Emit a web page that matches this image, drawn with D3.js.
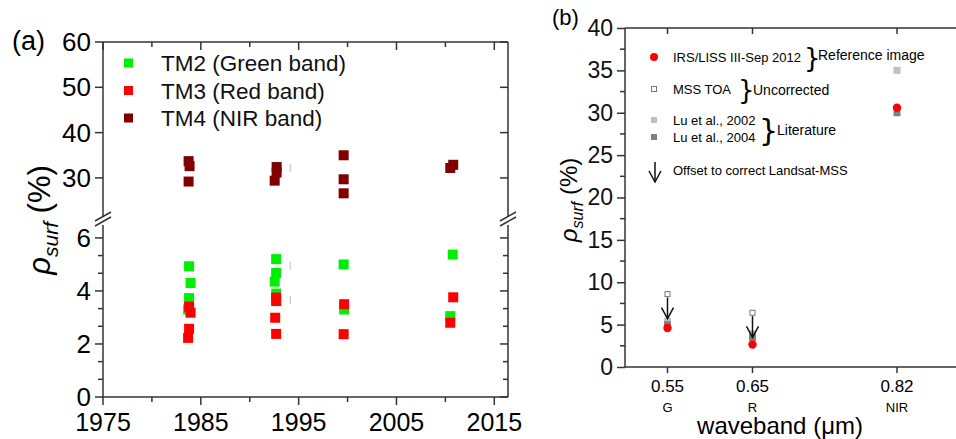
<!DOCTYPE html>
<html>
<head>
<meta charset="utf-8">
<script src="https://cdn.jsdelivr.net/npm/d3@7"></script>
<style>
  body { margin: 0; background: #fff; }
  svg { display: block; font-family: "Liberation Sans", Arial, sans-serif; }
</style>
</head>
<body>
<div id="plot"></div>
<script>
// ---- panel (a) data: [year, reflectance %]
var tm2 = [[1983.8, 4.93], [1983.95, 4.3], [1983.8, 3.73], [1983.7, 3.3],
  [1992.7, 5.2], [1992.7, 4.68], [1992.55, 4.35], [1992.7, 3.9],
  [1999.6, 5.0], [1999.65, 3.3],
  [2010.75, 5.37], [2010.5, 3.05]];
var tm3 = [[1983.8, 3.41], [1983.95, 3.18], [1983.8, 2.57], [1983.7, 2.23],
  [1992.7, 3.75], [1992.7, 3.62], [1992.6, 2.99], [1992.7, 2.38],
  [1999.65, 3.5], [1999.6, 2.37],
  [2010.8, 3.76], [2010.5, 2.8]];
var tm4 = [[1983.75, 33.7], [1983.85, 32.6], [1983.75, 29.2],
  [1992.75, 32.4], [1992.75, 31.2], [1992.55, 29.4],
  [1999.6, 35.0], [1999.6, 29.7], [1999.6, 26.6],
  [2010.5, 32.2], [2010.8, 32.9]];
var faint = [[1994.15, 32.2], [1994.15, 4.95], [1994.15, 3.66]];
var xTicksA = [1975, 1985, 1995, 2005, 2015];
var yTicksUp = [30, 40, 50, 60];
var yTicksLo = [0, 2, 4, 6];
var legendA = ["TM2 (Green band)", "TM3 (Red band)", "TM4 (NIR band)"];
var colorsA = ["#00ee00", "#ff0000", "#800000"];

// ---- panel (b) data
var bands = [0.55, 0.65, 0.82];
var bandNames = ["G", "R", "NIR"];
var liss = [4.6, 2.65, 30.6];
var mssToa = [8.6, 6.4, null];
var lu2002 = [5.4, 3.9, 35.0];
var lu2004 = [5.0, 3.5, 30.0];
var arrowTop = [8.2, 6.0];
var arrowEnd = [5.7, 3.5];
var yTicksB = [0, 5, 10, 15, 20, 25, 30, 35, 40];

var FONT = "'Liberation Sans', Arial, sans-serif";
var svg = d3.select("#plot").append("svg").attr("width", 956).attr("height", 439)
  .attr("font-family", FONT);
var axCol = "#333";

// ================= panel (a) =================
var xA = d3.scaleLinear().domain([1975, 2016.4]).range([103, 508]);
var yUp = d3.scaleLinear().domain([21, 60]).range([218.7, 42]);
var yLo = d3.scaleLinear().domain([0, 6.6]).range([397, 222]);
function yA(v) { return v > 15 ? yUp(v) : yLo(v); }

var ga = svg.append("g");
// frame lines
ga.append("line").attr("x1", 103).attr("x2", 508).attr("y1", 42).attr("y2", 42);
ga.append("line").attr("x1", 103).attr("x2", 508).attr("y1", 397).attr("y2", 397);
[103, 508].forEach(function(x) {
  ga.append("line").attr("x1", x).attr("x2", x).attr("y1", 42).attr("y2", 218);
  ga.append("line").attr("x1", x).attr("x2", x).attr("y1", 224).attr("y2", 397);
});
ga.selectAll("line").attr("stroke", axCol).attr("stroke-width", 1.5);

// x ticks (outward bottom, inward top)
var xAll = d3.range(1975, 2016, 5);
xAll.forEach(function(t) {
  var big = t % 10 === 5;
  var len = big ? 8 : 5;
  ga.append("line").attr("x1", xA(t)).attr("x2", xA(t)).attr("y1", 397).attr("y2", 397 + len)
    .attr("stroke", axCol).attr("stroke-width", 1.5);
  ga.append("line").attr("x1", xA(t)).attr("x2", xA(t)).attr("y1", 42).attr("y2", 42 + len)
    .attr("stroke", axCol).attr("stroke-width", 1.5);
});
ga.selectAll(".xl").data(xTicksA).enter().append("text")
  .attr("x", function(d) { return xA(d); }).attr("y", 431)
  .attr("text-anchor", "middle").attr("font-size", 25).text(function(d) { return d; });

// y ticks
function yTick(y, len) {
  ga.append("line").attr("x1", 103 - len).attr("x2", 103).attr("y1", y).attr("y2", y)
    .attr("stroke", axCol).attr("stroke-width", 1.5);
  ga.append("line").attr("x1", 508 - len).attr("x2", 508).attr("y1", y).attr("y2", y)
    .attr("stroke", axCol).attr("stroke-width", 1.5);
}
yTicksUp.forEach(function(t) { yTick(yUp(t), 8); });
yTicksLo.forEach(function(t) { yTick(yLo(t), 8); });
d3.range(0, 6, 2).forEach(function(t) {
  yTick(yLo(t + 2 / 3), 5);
  yTick(yLo(t + 4 / 3), 5);
});
ga.selectAll(".yu").data(yTicksUp.concat(yTicksLo)).enter().append("text")
  .attr("x", 91).attr("y", function(d) { return yA(d) + 9; })
  .attr("text-anchor", "end").attr("font-size", 26).text(function(d) { return d; });

// axis break marks
[103, 508].forEach(function(x) {
  ga.append("rect").attr("x", x - 6).attr("y", 217).attr("width", 12).attr("height", 8).attr("fill", "#fff");
  [0, 5].forEach(function(o) {
    ga.append("line").attr("x1", x - 8).attr("y1", 223 + o - 2).attr("x2", x + 8).attr("y2", 214 + o - 2)
      .attr("stroke", axCol).attr("stroke-width", 1.5);
  });
});

// faint marks
ga.selectAll(".faint").data(faint).enter().append("line")
  .attr("x1", function(d) { return xA(d[0]); }).attr("x2", function(d) { return xA(d[0]); })
  .attr("y1", function(d) { return yA(d[1]) - 4; }).attr("y2", function(d) { return yA(d[1]) + 4; })
  .attr("stroke", "#cfcfcf").attr("stroke-width", 1.5);

// squares
[tm2, tm4, tm3].forEach(function(series) {
  var c = series === tm2 ? colorsA[0] : series === tm3 ? colorsA[1] : colorsA[2];
  ga.append("g").selectAll("rect").data(series).enter().append("rect")
    .attr("x", function(d) { return xA(d[0]) - 5; })
    .attr("y", function(d) { return yA(d[1]) - 5; })
    .attr("width", 10).attr("height", 10).attr("fill", c);
});

// legend (a)
legendA.forEach(function(l, i) {
  var y = 63 + i * 27.5;
  ga.append("rect").attr("x", 124).attr("y", y - 4.5).attr("width", 9).attr("height", 9).attr("fill", colorsA[i]);
  ga.append("text").attr("x", 161).attr("y", y + 8).attr("font-size", 22.5).attr("fill", "#111").text(l);
});

ga.append("text").attr("x", 12).attr("y", 50).attr("font-size", 27).text("(a)");

// y label (a)
var la = ga.append("text").attr("transform", "translate(50,220)rotate(-90)")
  .attr("text-anchor", "middle").attr("font-size", 31);
la.append("tspan").attr("font-style", "italic").text("\u03C1");
la.append("tspan").attr("font-style", "italic").attr("font-size", 21).attr("dy", 8).text("surf");
la.append("tspan").attr("dy", -8).text(" (%)");

// ================= panel (b) =================
var xB = d3.scaleLinear().domain([0.5, 0.9]).range([625, 965]);
var yB = d3.scaleLinear().domain([0, 40]).range([367, 28]);
var gb = svg.append("g");

gb.append("line").attr("x1", 625).attr("x2", 965).attr("y1", 28).attr("y2", 28);
gb.append("line").attr("x1", 625).attr("x2", 965).attr("y1", 367).attr("y2", 367);
gb.append("line").attr("x1", 625).attr("x2", 625).attr("y1", 28).attr("y2", 367);
gb.selectAll("line").attr("stroke", axCol).attr("stroke-width", 1.5);

var yAxisB = d3.axisLeft(yB).tickValues(yTicksB).tickSize(8).tickPadding(4);
var ybg = gb.append("g").attr("transform", "translate(625,0)").call(yAxisB);
ybg.select(".domain").remove();
ybg.selectAll("line").attr("stroke", axCol).attr("stroke-width", 1.5);
ybg.selectAll("text").attr("font-size", 23).attr("font-family", FONT).attr("fill", "#111");
d3.range(2.5, 40, 5).forEach(function(t) {
  gb.append("line").attr("x1", 620).attr("x2", 625).attr("y1", yB(t)).attr("y2", yB(t))
    .attr("stroke", axCol).attr("stroke-width", 1.5);
});

bands.forEach(function(b, i) {
  gb.append("line").attr("x1", xB(b)).attr("x2", xB(b)).attr("y1", 367).attr("y2", 373)
    .attr("stroke", axCol).attr("stroke-width", 1.5);
  gb.append("line").attr("x1", xB(b)).attr("x2", xB(b)).attr("y1", 28).attr("y2", 34)
    .attr("stroke", axCol).attr("stroke-width", 1.5);
  gb.append("text").attr("x", xB(b)).attr("y", 392).attr("text-anchor", "middle")
    .attr("font-size", 17).text(b.toFixed(2));
  gb.append("text").attr("x", xB(b)).attr("y", 412).attr("text-anchor", "middle")
    .attr("font-size", 13).text(bandNames[i]);
});
gb.append("text").attr("x", 780).attr("y", 434).attr("text-anchor", "middle").attr("font-size", 24)
  .text("waveband (\u03BCm)");

gb.append("text").attr("x", 552).attr("y", 25).attr("font-size", 22).text("(b)");

var lb = gb.append("text").attr("transform", "translate(577,200)rotate(-90)")
  .attr("text-anchor", "middle").attr("font-size", 24);
lb.append("tspan").attr("font-style", "italic").text("\u03C1");
lb.append("tspan").attr("font-style", "italic").attr("font-size", 16).attr("dy", 6).text("surf");
lb.append("tspan").attr("dy", -6).text(" (%)");

// markers
function sq(g, x, y, s, fill, stroke) {
  g.append("rect").attr("x", x - s / 2).attr("y", y - s / 2).attr("width", s).attr("height", s)
    .attr("fill", fill).attr("stroke", stroke || "none").attr("stroke-width", 1);
}
bands.forEach(function(b, i) {
  sq(gb, xB(b), yB(lu2002[i]), 7, "#c0c0c0");
  sq(gb, xB(b), yB(lu2004[i]), 7, "#808080");
  if (mssToa[i] !== null) sq(gb, xB(b), yB(mssToa[i]), 5, "#fff", "#777");
  gb.append("circle").attr("cx", xB(b)).attr("cy", yB(liss[i])).attr("r", 4.2).attr("fill", "#ff0000");
});
// arrows
function arrow(g, x, y1, y2) {
  g.append("line").attr("x1", x).attr("x2", x).attr("y1", y1).attr("y2", y2)
    .attr("stroke", "#111").attr("stroke-width", 1.5);
  g.append("path").attr("d", "M" + (x - 6) + "," + (y2 - 11) + "L" + x + "," + y2 + "L" + (x + 6) + "," + (y2 - 11))
    .attr("fill", "none").attr("stroke", "#111").attr("stroke-width", 1.5);
}
arrowTop.forEach(function(t, i) { arrow(gb, xB(bands[i]), yB(t), yB(arrowEnd[i])); });

// legend (b)
var fs = 13;
gb.append("circle").attr("cx", 654).attr("cy", 57).attr("r", 4).attr("fill", "#ff0000");
gb.append("text").attr("x", 673).attr("y", 62).attr("font-size", fs).text("IRS/LISS III-Sep 2012");
sq(gb, 654, 89, 5, "#fff", "#777");
gb.append("text").attr("x", 673).attr("y", 94).attr("font-size", fs).text("MSS TOA");
sq(gb, 654, 120, 6, "#c0c0c0");
gb.append("text").attr("x", 673).attr("y", 125).attr("font-size", fs).text("Lu et al., 2002");
sq(gb, 654, 137, 6, "#808080");
gb.append("text").attr("x", 673).attr("y", 142).attr("font-size", fs).text("Lu et al., 2004");
arrow(gb, 655, 162, 182);
gb.append("text").attr("x", 673).attr("y", 175).attr("font-size", fs).text("Offset to correct Landsat-MSS");

function brace(x, y, s) {
  gb.append("text").attr("x", x).attr("y", y).attr("font-size", s).attr("font-family", "'DejaVu Sans', sans-serif")
    .text("}");
}
brace(804, 67, 26);
gb.append("text").attr("x", 818).attr("y", 60).attr("font-size", 14).text("Reference image");
brace(738, 99, 26);
gb.append("text").attr("x", 753).attr("y", 95).attr("font-size", 14).text("Uncorrected");
brace(759, 141, 30);
gb.append("text").attr("x", 777).attr("y", 135).attr("font-size", 14).text("Literature");
</script>
</body>
</html>
